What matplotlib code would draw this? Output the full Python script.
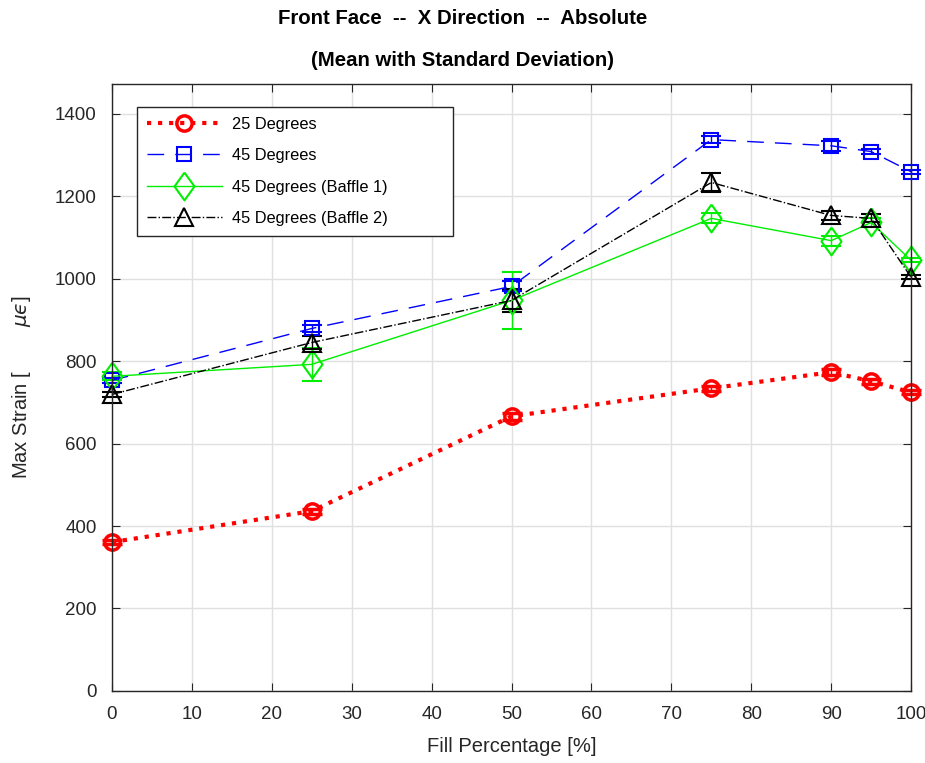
import matplotlib
matplotlib.use("Agg")
import matplotlib.pyplot as plt
from matplotlib.lines import Line2D

fill = [0, 25, 50, 75, 90, 95, 100]
deg25 = [361, 436, 666, 734, 773, 751, 724]
deg25_sd = [5, 6, 8, 6, 8, 6, 5]
deg45 = [753, 879, 981, 1337, 1322, 1308, 1259]
deg45_sd = [6, 8, 12, 8, 12, 6, 5]
baf1 = [763, 792, 947, 1146, 1092, 1136, 1044]
baf1_sd = [10, 40, 70, 12, 12, 12, 5]
baf2 = [719, 845, 947, 1233, 1153, 1146, 1003]
baf2_sd = [5, 15, 28, 22, 10, 10, 5]
labels = ['25 Degrees', '45 Degrees', '45 Degrees (Baffle 1)', '45 Degrees (Baffle 2)']

plt.rcParams['font.family'] = ['Liberation Sans', 'DejaVu Sans']

fig = plt.figure(figsize=(9.25, 7.63), dpi=100)
ax = fig.add_axes([0.121, 0.0944, 0.864, 0.7956])

diamond = [(0, 1), (0.72, 0), (0, -1), (-0.72, 0), (0, 1)]
styles = [
    dict(color='red', ls=':', lw=3, marker='o', ms=11, mew=2.5),
    dict(color='blue', ls=(0, (12, 8)), lw=1, marker='s', ms=10, mew=1.5),
    dict(color='#00ee00', ls='-', lw=1, marker=diamond, ms=20, mew=1.5),
    dict(color='black', ls='-.', lw=1, marker='^', ms=13, mew=1.5),
]
series = [(deg25, deg25_sd), (deg45, deg45_sd), (baf1, baf1_sd), (baf2, baf2_sd)]

handles = []
for (vals, sd), st, lab in zip(series, styles, labels):
    c = ax.errorbar(fill, vals, yerr=sd, capsize=7, elinewidth=1, mfc='none',
                    capthick=1.5 if st['lw'] > 2 else 1, clip_on=False, **st)
    for art in c.lines[1] + c.lines[2]:
        art.set_clip_on(False)
    handles.append(Line2D([], [], mfc='none', label=lab, **st))

ax.set_xlim(0, 100)
ax.set_ylim(0, 1472)
ax.set_xticks(range(0, 101, 10))
ax.set_yticks(range(0, 1401, 200))
ax.grid(True, color='#e0e0e0', lw=1)
ax.set_axisbelow(True)
ax.tick_params(direction='in', top=True, right=True, labelsize=13.5, length=6,
               colors='#262626', labelcolor='#262626')
ax.tick_params(axis='x', pad=11)
ax.tick_params(axis='y', pad=11)
for s in ax.spines.values():
    s.set_linewidth(1)
    s.set_color('#262626')

ax.set_xlabel('Fill Percentage [%]', fontsize=14.5, color='#262626', va='center')
ax.xaxis.set_label_coords(0.5, -0.092)
ax.set_ylabel('Max Strain [        $\\mu\u03f5$]', fontsize=14.5, color='#262626',
              va='center')
ax.yaxis.set_label_coords(-0.113, 0.5)
fig.text(0.5, 0.976, 'Front Face  --  X Direction  --  Absolute', ha='center', va='center',
         fontsize=14.7, fontweight='bold')
fig.text(0.5, 0.921, '(Mean with Standard Deviation)', ha='center', va='center',
         fontsize=14.7, fontweight='bold')

leg = ax.legend(handles=handles, loc='upper left', bbox_to_anchor=(0.0313, 0.5, 0.395, 0.462),
                mode='expand', fontsize=11.8, frameon=True, fancybox=False,
                edgecolor='#262626', framealpha=1, handlelength=4.6, borderpad=0.6,
                labelspacing=1.0, handletextpad=0.6, borderaxespad=0)
leg.get_frame().set_linewidth(1)

fig.savefig('out.png', dpi=100)
